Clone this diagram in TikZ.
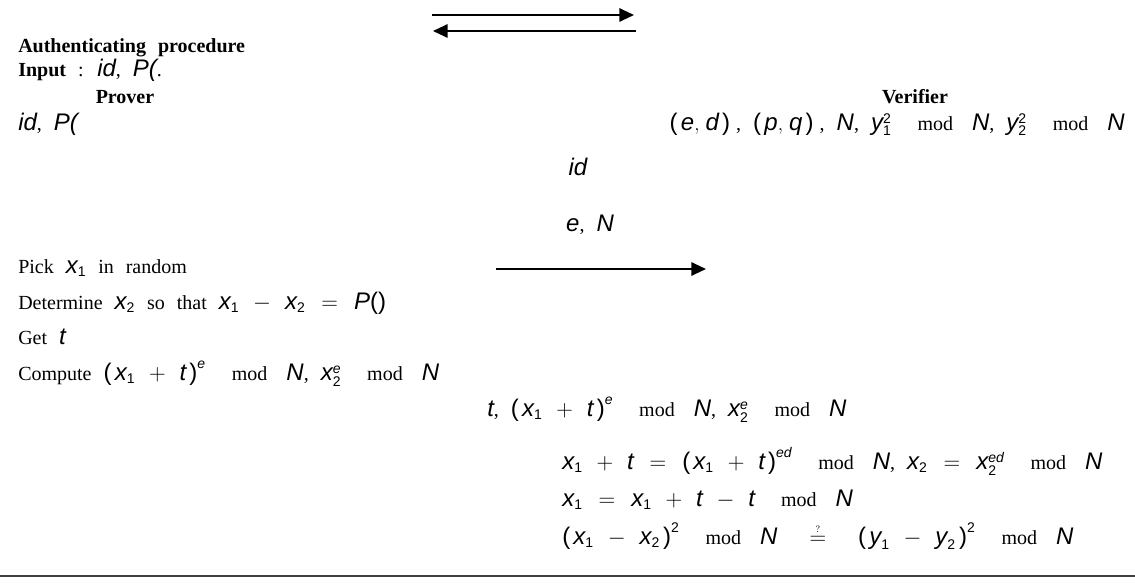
\documentclass[tikz,border=0pt]{standalone}
\usepackage{amsmath}
\usepackage{fontspec}
\setmainfont{Liberation Serif}
\setsansfont{Liberation Sans}
\usetikzlibrary{arrows.meta}
% italic sans variable at base size, and in scripts
\newcommand{\bigsz}{\fontsize{18}{20}\selectfont}
\newcommand{\vv}[1]{\mbox{\bigsz\sffamily\itshape #1}}
\newcommand{\vs}[1]{\textsf{\itshape #1}}
\newcommand{\sv}[1]{\textsf{#1}}
\newcommand{\md}{\hskip1.3em mod\hskip0.95em}
\newcommand{\lp}{\mbox{\bigsz\sffamily(}\,}
\newcommand{\rp}{\,\mbox{\bigsz\sffamily)}}
\newcommand{\pl}{\mathbin{\mbox{\bigsz$+$}}}
\newcommand{\mi}{\mathbin{\mbox{\bigsz$-$}}}
\newcommand{\eq}{\mathrel{\mbox{\bigsz$=$}}}
\newcommand{\widesp}{\spaceskip=0.6em plus 0.1em\relax\medmuskip=13mu plus 2mu\thickmuskip=15mu plus 3mu}
\begin{document}
\begin{tikzpicture}[x=0.75pt,y=-0.75pt,
  txt/.style={inner sep=0pt, font=\fontsize{15}{18}\selectfont, execute at begin node=\widesp},
  lft/.style={txt, anchor=mid west},
  arr/.style={line width=1.5pt, -{Triangle[length=11pt,width=10pt]}}]
\useasboundingbox (0,0) rectangle (1135,585);
% header
\node[lft] (title) at (18,49) {\textbf{Authenticating procedure}};
\node[lft] (input) at (18,73) {\textbf{Input} : \vv{id}, \vv{P(}.};
\node[txt, anchor=mid] (prover) at (125,100) {\textbf{Prover}};
\node[txt, anchor=mid] (verifier) at (915,100) {\textbf{Verifier}};
\node[lft] (pin) at (18,127) {\vv{id}, \vv{P(}};
\node[txt, anchor=mid east] (vin) at (1125,127) {$\lp\vv{e},\hskip0.15em\vv{d}\rp$\hskip0.3em, $\lp\vv{p},\hskip0.15em\vv{q}\rp$\hskip0.3em, \vv{N}, $\vv{y}_{\sv1}^{\sv2}$\md\vv{N}, $\vv{y}_{\sv2}^{\sv2}$\md\vv{N}};
% messages
\node[txt, anchor=mid] (mid) at (578,172) {\vv{id}};
\node[txt, anchor=mid] (meN) at (590,228) {\vv{e}, \vv{N}};
% prover steps
\node[lft] (p1) at (18,270) {Pick $\vv{x}_{\sv1}$ in random};
\node[lft] (p2) at (18,306) {Determine $\vv{x}_{\sv2}$ so that $\vv{x}_{\sv1}\mi\vv{x}_{\sv2}\eq\vv{P}\mbox{\bigsz\sffamily()}$};
\node[lft] (p3) at (18,341) {Get \vv{t}};
\node[lft] (p4) at (18,377) {Compute $\lp\vv{x}_{\sv1}\pl\vv{t}\rp^{\vs{e}}$\md\vv{N}, $\vv{x}_{\sv2}^{\vs{e}}$\md\vv{N}};
\node[lft] (p5) at (487,413) {\vv{t}, $\lp\vv{x}_{\sv1}\pl\vv{t}\rp^{\vs{e}}$\md\vv{N}, $\vv{x}_{\sv2}^{\vs{e}}$\md\vv{N}};
% verifier steps
\node[lft] (v1) at (562,466) {$\vv{x}_{\sv1}\pl\vv{t}\eq\lp\vv{x}_{\sv1}\pl\vv{t}\rp^{\vs{ed}}$\md\vv{N}, $\vv{x}_{\sv2}\eq\vv{x}_{\sv2}^{\vs{ed}}$\md\vv{N}};
\node[lft] (v2) at (562,503) {$\vv{x}_{\sv1}\eq\vv{x}_{\sv1}\pl\vv{t}\mi\vv{t}$\md\vv{N}};
\node[lft] (v3) at (562,541) {$\lp\vv{x}_{\sv1}\mi\vv{x}_{\sv2}\rp^{\sv2}$\md\vv{N}\hskip1.6em$\overset{\scriptscriptstyle ?}{\eq}$\hskip1.6em$\lp\vv{y}_{\sv1}\mi\vv{y}_{\sv2}\rp^{\sv2}$\md\vv{N}};
% arrows
\coordinate (t1s) at (432,15);
\coordinate (t1e) at (634,15);
\coordinate (t2s) at (636,31);
\coordinate (t2e) at (433,31);
\draw[arr] (t1s) -- (t1e);
\draw[arr] (t2s) -- (t2e);
\coordinate (m1s) at (496,269);
\coordinate (m1e) at (706,269);
\draw[arr] (m1s) -- (m1e);
% bottom rule
\coordinate (rl) at (0,576);
\coordinate (rr) at (1135,576);
\draw[line width=1.8pt, black!75] (rl) -- (rr);
\end{tikzpicture}
\end{document}
